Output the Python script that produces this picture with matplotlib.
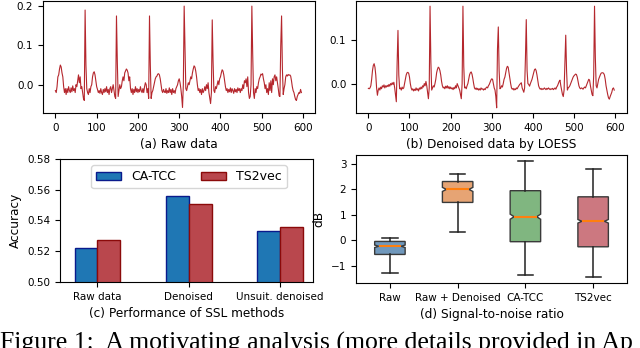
import numpy as np
import matplotlib
matplotlib.use("Agg")
import matplotlib.pyplot as plt

# (a) raw ECG-like signal, one value every 2 samples
raw_y = [
    -0.015, -0.02, -0.005, 0.02, 0.025, 0.04, 0.05, 0.045, 0.03, 0.02,
    -0.005, -0.02, -0.01, -0.025, -0.01, -0.02, -0.005, -0.015, -0.02, -0.008,
    -0.018, -0.003, -0.015, -0.01, -0.02, 0.0, -0.005, 0.01, 0.025, 0.005,
    0.02, -0.01, -0.005, -0.02, -0.035, -0.04, 0.19, 0.05, -0.01, -0.02,
    -0.025, -0.01, -0.02, -0.005, 0.0, 0.02, 0.03, 0.033, 0.025, 0.01,
    -0.005, -0.012, -0.02, -0.015, -0.022, -0.01, -0.02, -0.025, -0.012, -0.02,
    -0.01, -0.018, -0.005, -0.02, -0.012, -0.025, -0.01, -0.005, -0.02, -0.01,
    0.0, -0.015, -0.03, -0.035, 0.175, 0.06, -0.03, -0.015, 0.0, -0.01,
    -0.005, 0.01, 0.02, 0.01, 0.03, 0.035, 0.04, 0.037, 0.03, 0.01,
    0.02, -0.01, -0.02, -0.01, -0.025, -0.012, -0.02, -0.005, -0.018, -0.01,
    -0.02, -0.012, -0.018, -0.005, -0.015, -0.02, -0.01, -0.02, -0.005, 0.005,
    0.0, -0.02, -0.01, -0.035, 0.175, 0.05, -0.035, -0.02, -0.015, -0.005,
    0.005, 0.015, 0.02, 0.022, 0.027, 0.028, 0.025, 0.015, 0.0, -0.015,
    -0.02, -0.012, -0.018, -0.02, -0.01, -0.022, -0.015, -0.02, -0.008, -0.02,
    -0.012, -0.025, -0.01, -0.02, -0.015, -0.022, -0.01, -0.005, 0.0, 0.01,
    0.015, 0.005, -0.01, -0.03, -0.058, 0.0, 0.2, 0.1, -0.01, -0.015,
    -0.005, 0.005, 0.0, 0.01, 0.02, 0.015, 0.03, 0.04, 0.048, 0.045,
    0.035, 0.02, 0.0, -0.015, -0.01, -0.02, -0.012, -0.025, -0.01, -0.02,
    -0.015, -0.005, -0.015, 0.0, -0.01, 0.005, -0.02, -0.035, -0.048, -0.02,
    0.165, 0.06, -0.015, -0.02, -0.005, -0.01, 0.0, 0.01, 0.0, 0.015,
    0.02, 0.03, 0.038, 0.035, 0.025, 0.01, -0.005, -0.015, -0.01, -0.02,
    -0.012, -0.018, -0.008, -0.02, -0.01, -0.015, -0.022, -0.01, -0.018, -0.012,
    -0.02, -0.008, -0.015, -0.01, -0.02, -0.01, -0.015, 0.0, -0.01, 0.01,
    0.005, 0.015, -0.005, 0.02, -0.02, -0.035, -0.03, 0.0, 0.2, 0.08,
    -0.02, -0.035, -0.01, -0.02, -0.005, -0.01, 0.005, 0.015, 0.02, 0.027,
    0.025, 0.028, 0.015, 0.005, -0.01, 0.0, -0.02, -0.01, -0.025, 0.005,
    -0.015, 0.01, -0.02, 0.015, 0.0, 0.02, 0.025, 0.01, 0.02, 0.005,
    -0.01, -0.028, -0.03, 0.1, 0.175, 0.04, -0.025, -0.01, 0.0, 0.02,
    0.025, 0.022, 0.026, 0.024, 0.025, 0.022, 0.01, -0.005, -0.015, -0.02,
    -0.03, -0.038, -0.04, -0.03, -0.025, -0.02, -0.022, -0.012, -0.02,
]

# (b) same signal after LOESS denoising
den_y = [
    -0.011, -0.012, -0.01, -0.005, 0.01, 0.03, 0.042, 0.046, 0.038, 0.02,
    -0.01, -0.027, -0.015, -0.01, -0.015, -0.008, -0.012, -0.005, -0.008, -0.003,
    -0.01, -0.005, -0.008, -0.004, -0.007, -0.002, -0.006, 0.0, -0.003, 0.002,
    -0.002, 0.003, -0.01, -0.025, -0.042, 0.05, 0.123, 0.02, -0.012, -0.01,
    -0.015, -0.008, -0.012, -0.01, 0.0, 0.01, 0.02, 0.025, 0.026, 0.024,
    0.015, 0.0, -0.01, -0.015, -0.012, -0.017, -0.013, -0.016, -0.01, -0.015,
    -0.012, -0.017, -0.01, -0.013, -0.008, -0.012, -0.005, -0.008, 0.0, -0.005,
    0.005, -0.005, -0.02, -0.035, -0.01, 0.179, 0.05, -0.015, -0.01, -0.005,
    -0.008, 0.0, 0.01, 0.025, 0.033, 0.038, 0.036, 0.03, 0.02, 0.005,
    -0.005, -0.01, -0.008, -0.012, -0.006, -0.01, -0.005, -0.011, -0.007, -0.012,
    -0.008, -0.012, -0.01, -0.014, -0.009, -0.012, -0.005, -0.01, 0.0, -0.005,
    -0.01, -0.015, -0.025, -0.035, 0.0, 0.179, 0.04, -0.01, -0.008, -0.012,
    -0.005, 0.0, 0.01, 0.02, 0.025, 0.027, 0.022, 0.012, 0.0, -0.01,
    -0.013, -0.01, -0.014, -0.011, -0.015, -0.012, -0.015, -0.01, -0.013, -0.012,
    -0.015, -0.012, -0.014, -0.01, -0.008, -0.01, -0.005, -0.002, 0.003, 0.008,
    0.011, 0.01, 0.0, -0.01, -0.015, -0.03, -0.056, 0.08, 0.131, 0.03,
    -0.012, -0.01, -0.005, -0.008, 0.0, 0.01, 0.015, 0.025, 0.035, 0.04,
    0.038, 0.025, 0.012, 0.0, -0.01, -0.013, -0.011, -0.015, -0.012, -0.014,
    -0.01, -0.012, -0.008, -0.005, -0.002, 0.0, 0.002, -0.01, -0.015, -0.02,
    -0.01, 0.06, 0.148, 0.03, 0.0, -0.002, -0.006, 0.0, 0.005, 0.01,
    0.018, 0.025, 0.032, 0.034, 0.03, 0.02, 0.008, -0.005, -0.01, -0.013,
    -0.011, -0.014, -0.012, -0.013, -0.01, -0.012, -0.014, -0.011, -0.013, -0.01,
    -0.012, -0.014, -0.012, -0.013, -0.011, -0.014, -0.012, -0.01, -0.013, -0.008,
    -0.005, 0.0, 0.005, 0.008, -0.005, -0.015, -0.025, -0.03, -0.015, 0.05,
    0.112, 0.03, -0.015, -0.01, -0.008, -0.005, 0.0, 0.005, 0.01, 0.015,
    0.018, 0.02, 0.022, 0.021, 0.015, 0.005, -0.005, -0.01, -0.012, -0.01,
    -0.011, -0.013, -0.01, -0.008, -0.01, -0.005, 0.0, 0.005, 0.01, 0.008,
    -0.005, -0.015, -0.025, -0.028, 0.02, 0.179, 0.06, -0.005, -0.01, 0.0,
    0.01, 0.015, 0.02, 0.024, 0.025, 0.025, 0.024, 0.02, 0.01, -0.005,
    -0.015, -0.025, -0.033, -0.036, -0.03, -0.025, -0.02, -0.012, -0.01, -0.015,
]

# (c) accuracy of SSL methods
bar_groups = ["Raw data", "Denoised", "Unsuit. denoised"]
acc_catcc = [0.522, 0.556, 0.533]
acc_ts2vec = [0.527, 0.551, 0.536]

# (d) signal-to-noise ratio (dB) box statistics
box_labels = ["Raw", "Raw + Denoised", "CA-TCC", "TS2vec"]
box_whislo = [-1.26, 0.33, -1.36, -1.44]
box_q1 = [-0.55, 1.49, -0.05, -0.25]
box_med = [-0.23, 2.0, 0.93, 0.75]
box_q3 = [-0.04, 2.31, 1.95, 1.71]
box_whishi = [0.1, 2.62, 3.12, 2.81]
box_cilo = [-0.28, 1.92, 0.83, 0.68]
box_cihi = [-0.18, 2.08, 1.03, 0.82]
box_colors = ["#7098bc", "#e6a474", "#80b680", "#cc7880"]

line_color = "#b5272d"
tick_fs = 7.5
label_fs = 8.7

fig = plt.figure(figsize=(6.4, 3.48), dpi=100)

ax_a = fig.add_axes([0.0672, 0.6753, 0.425, 0.3218])
ax_b = fig.add_axes([0.5563, 0.6753, 0.4234, 0.3218])
ax_c = fig.add_axes([0.0938, 0.1897, 0.3953, 0.3534])
ax_d = fig.add_axes([0.5563, 0.1868, 0.4234, 0.3678])

# (a)
raw_x = np.arange(len(raw_y)) * 2
ax_a.plot(raw_x, raw_y, color=line_color, linewidth=0.8)
ax_a.set_xlim(-30, 629)
ax_a.set_ylim(-0.072, 0.213)
ax_a.set_yticks([0.0, 0.1, 0.2])
ax_a.set_xticks([0, 100, 200, 300, 400, 500, 600])
ax_a.set_xlabel("(a) Raw data", fontsize=label_fs)

# (b)
den_x = np.arange(len(den_y)) * 2
ax_b.plot(den_x, den_y, color=line_color, linewidth=0.8)
ax_b.set_xlim(-30, 629)
ax_b.set_ylim(-0.068, 0.191)
ax_b.set_yticks([0.0, 0.1])
ax_b.set_xticks([0, 100, 200, 300, 400, 500, 600])
ax_b.set_xlabel("(b) Denoised data by LOESS", fontsize=label_fs)

for ax in (ax_a, ax_b):
    ax.yaxis.set_major_formatter(matplotlib.ticker.FormatStrFormatter("%.1f"))

# (c)
pos = np.arange(len(bar_groups))
w = 0.25
ax_c.bar(pos - w / 2, acc_catcc, w, color="#1f77b4", edgecolor="#0a1a8c",
         linewidth=1.0, label="CA-TCC")
ax_c.bar(pos + w / 2, acc_ts2vec, w, color="#b9474d", edgecolor="#8b0a0a",
         linewidth=1.0, label="TS2vec")
ax_c.set_xticks(pos)
ax_c.set_xticklabels(bar_groups)
ax_c.set_xlim(-0.41, 2.36)
ax_c.set_ylim(0.5, 0.58)
ax_c.set_yticks([0.50, 0.52, 0.54, 0.56, 0.58])
ax_c.yaxis.set_major_formatter(matplotlib.ticker.FormatStrFormatter("%.2f"))
ax_c.set_ylabel("Accuracy", fontsize=label_fs)
ax_c.set_xlabel("(c) Performance of SSL methods", fontsize=label_fs)
ax_c.legend(loc="upper center", bbox_to_anchor=(0.51, 1.0), ncol=2, fontsize=9)

# (d)
stats = []
for i in range(len(box_labels)):
    stats.append(dict(label=box_labels[i], whislo=box_whislo[i], q1=box_q1[i],
                      med=box_med[i], q3=box_q3[i], whishi=box_whishi[i],
                      cilo=box_cilo[i], cihi=box_cihi[i], fliers=[]))
box_pos = [1, 2, 3, 4]
box_w = 0.45
bp = ax_d.bxp(stats, positions=box_pos, widths=box_w, shownotches=True,
              patch_artist=True, showfliers=False,
              boxprops=dict(edgecolor="#3a3a3a", linewidth=1.0),
              whiskerprops=dict(color="#222222", linewidth=1.1),
              capprops=dict(color="#222222", linewidth=1.1),
              medianprops=dict(color="#ff7f0e", linewidth=1.5))
# shallower notches than matplotlib's default
for p, patch, med, c in zip(box_pos, bp["boxes"], bp["medians"], box_colors):
    patch.set_facecolor(c)
    verts = patch.get_path().vertices
    verts[3, 0] = p + box_w * 0.37
    verts[8, 0] = p - box_w * 0.37
    med.set_xdata([p - box_w * 0.37, p + box_w * 0.37])
ax_d.set_xlim(0.5, 4.5)
ax_d.set_ylim(-1.67, 3.35)
ax_d.set_yticks([-1, 0, 1, 2, 3])
ax_d.set_ylabel("dB", fontsize=label_fs)
ax_d.set_xlabel("(d) Signal-to-noise ratio", fontsize=label_fs)

for ax in (ax_a, ax_b, ax_c, ax_d):
    ax.tick_params(labelsize=tick_fs)

fig.text(0.0, -0.004, "Figure 1:  A motivating analysis (more details provided in Ap",
         family="Liberation Serif", fontsize=18.5, ha="left", va="baseline")

fig.savefig("out.png", dpi=100)
